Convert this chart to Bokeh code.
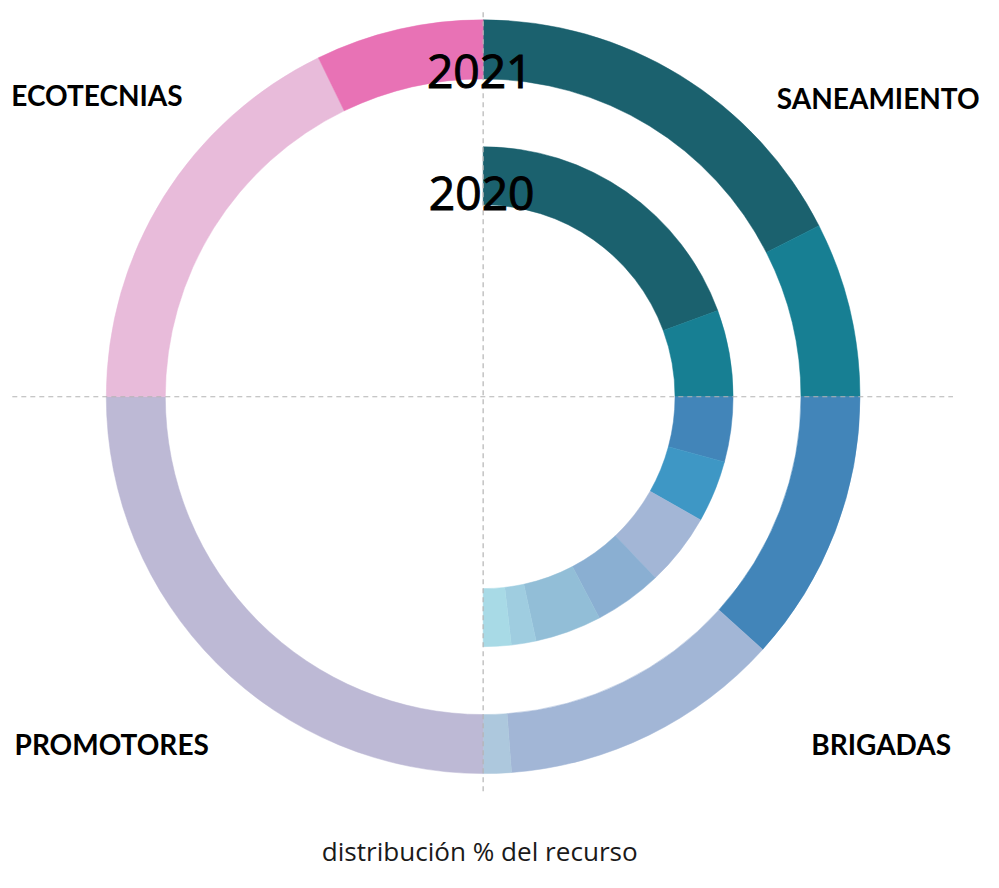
import numpy as np
from bokeh.plotting import figure
from bokeh.models import Range1d, ColumnDataSource
from bokeh.core.properties import value
from bokeh.embed import file_html
from bokeh.resources import INLINE

# ---- data (percent of the whole circle) ----
cat_2021 = ["san_1", "san_2", "bri_1", "bri_2", "bri_3", "promotores", "eco_1", "eco_2"]
val_2021 = [17.5, 7.5, 11.7, 12.1, 1.2, 25.0, 17.8, 7.2]
col_2021 = ["#1b616e", "#177f93", "#4285b9", "#a2b6d6", "#adc8dd", "#bdb9d5", "#e8bbda", "#e872b5"]

cat_2020 = ["san_1", "san_2", "bri_1", "bri_2", "bri_3", "bri_4", "bri_5", "bri_6", "bri_7"]
val_2020 = [19.4, 5.6, 4.2, 4.0, 4.7, 4.4, 4.3, 1.6, 1.8]
col_2020 = ["#1b616e", "#177f93", "#4285b9", "#3e97c5", "#a3b6d6", "#8aafd2", "#92bed7", "#9fcde0", "#a8dae6"]

quadrant_labels = ["ECOTECNIAS", "SANEAMIENTO", "PROMOTORES", "BRIGADAS"]
year_labels = ["2021", "2020"]
axis_title = "distribución % del recurso"

# ---- layout: data units follow the 999x888 reference frame, y upward ----
W, H = 983, 872
REF_W, REF_H = 999, 888
S = W / REF_W  # screen px per reference px


def Y(img_y):
    return REF_H - img_y


CX, CY = 490.5, Y(403.5)
R_OUT = (323, 383)
R_IN = (195, 254)

p = figure(width=W, height=H, output_backend="svg", toolbar_location=None,
           x_range=Range1d(0, REF_W), y_range=Range1d(0, REF_H),
           min_border=0)
p.axis.visible = False
p.grid.visible = False
p.outline_line_color = None
p.background_fill_color = "white"


def ring_source(vals, cols, r):
    v = np.array(vals, dtype=float) / 100.0
    ends = np.cumsum(v)
    starts = ends - v
    return ColumnDataSource(dict(
        x=[CX] * len(v), y=[CY] * len(v),
        start=np.pi / 2 - 2 * np.pi * ends,
        end=np.pi / 2 - 2 * np.pi * starts,
        color=cols,
        ri=[r[0]] * len(v), ro=[r[1]] * len(v),
    ))


for vals, cols, r in [(val_2021, col_2021, R_OUT), (val_2020, col_2020, R_IN)]:
    src = ring_source(vals, cols, r)
    p.annular_wedge(x="x", y="y", inner_radius="ri", outer_radius="ro",
                    start_angle="start", end_angle="end", direction="anticlock",
                    fill_color="color", line_color="color", line_width=0.5,
                    source=src)

# dashed cross lines
p.segment(x0=[CX, 12], y0=[Y(12), CY], x1=[CX, 968], y1=[Y(806), CY],
          line_color="#b4b4b4", line_width=1.2, line_dash="5 4")


def fs(px):
    return f"{px * S:.1f}px"


# quadrant labels
p.text(x=[98, 892, 113, 895], y=[Y(96), Y(99), Y(757), Y(757)],
       text=quadrant_labels, text_align="center", text_baseline="alphabetic",
       text_font=value("Lato"), text_font_style="bold", text_font_size=fs(28.5),
       text_color="black")

# year labels (slightly heavier than regular)
yr = p.text(x=[487, 489], y=[Y(72), Y(197)], text=year_labels,
            text_align="center", text_baseline="alphabetic",
            text_font=value("Open Sans"), text_font_size=fs(47),
            text_color="black")
try:
    yr.glyph.text_outline_color = "black"
except Exception:
    pass

# bottom title
p.text(x=[487], y=[Y(866)], text=[axis_title], text_align="center",
       text_baseline="alphabetic", text_font=value("Open Sans"),
       text_font_size=fs(26.5), text_color="#1a1a1a")

open("out.html", "w").write(file_html(p, INLINE))
